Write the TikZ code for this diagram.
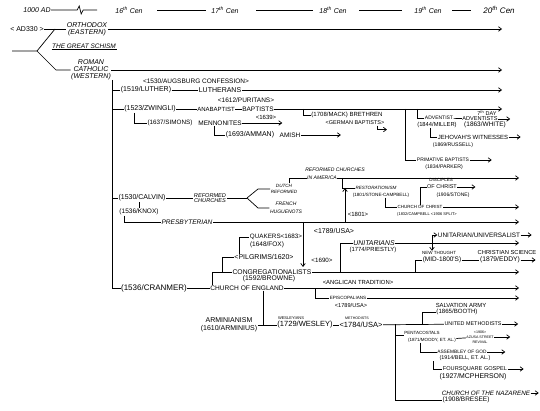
\documentclass[tikz,border=0pt]{standalone}
\usepackage{fontspec}
\newfontfamily\hand{Liberation Sans}
\usetikzlibrary{arrows.meta}

\begin{document}
\begin{tikzpicture}[
    x=1pt, y=-1pt,
    lbl/.style={inner sep=0.4pt, align=center},
    fs/.style={lbl, font=\hand\fontsize{#1}{#1}\selectfont},
    fsi/.style={lbl, font=\hand\itshape\fontsize{#1}{#1}\selectfont},
    ln/.style={line width=0.7pt},
    arr/.style={ln, -{Straight Barb[length=3pt,width=4.5pt]}},
  ]
  \fill[white] (0,0) rectangle (540,411);
  \useasboundingbox (0,0) rectangle (540,411);
  \coordinate (R)  at (502,0);
  \coordinate (R2) at (519,0);

  % time scale
  \node[fsi=7] (h0)  at (37,10)  {1000 AD};
  \node[fsi=7] (h16) at (129,10) {16\textsuperscript{th} Cen};
  \node[fsi=7] (h17) at (225,10) {17\textsuperscript{th} Cen};
  \node[fsi=7] (h18) at (333,10) {18\textsuperscript{th} Cen};
  \node[fsi=7] (h19) at (428,10) {19\textsuperscript{th} Cen};
  \node[fsi=8] (h20) at (499,10) {20\textsuperscript{th} Cen};
  \draw[ln] (h0.east) -- ++(26,0) -- ++(2,-4) -- ++(2,8) -- ++(2,-4) -- ++(14,0);
  \draw[ln] ([xshift=14pt]h16.east) -- ([xshift=-5pt]h17.west);
  \draw[ln] ([xshift=17pt]h17.east) -- ([xshift=-6pt]h18.west);
  \draw[ln] ([xshift=12pt]h18.east) -- ([xshift=-12pt]h19.west);
  \draw[ln] ([xshift=10pt]h19.east) -- ([xshift=-12pt]h20.west);

  % east / west
  \node[fs=7]     (ad)     at (27,29) {< AD330 >};
  \node[fsi=7]    (orth)   at (87,29) {ORTHODOX\\(EASTERN)};
  \node[fsi=6.5]  (schism) at (84,46) {THE GREAT SCHISM};
  \node[fsi=7]    (rom)    at (91,70) {ROMAN\\CATHOLIC\\(WESTERN)};
  \coordinate (rootx) at (12,51);
  \coordinate (split) at (37,51);
  \coordinate (up) at (55,29);
  \coordinate (dn) at (56,70);
  \draw[ln] (ad) -- (orth);
  \draw[ln] (rootx) -- (split) -- (up);
  \draw[ln] (split) -- (dn) -- (rom.west);
  \draw[ln] (schism.south west) -- (schism.south east);
  \draw[arr] (orth.east) -- (orth.east -| R);
  \draw[arr] (rom.east) -- (rom.east -| R);

  % lutherans, anabaptists
  \coordinate (pv) at (112,80);
  \node[fs=6.5] (augs)   at (196,81)  {<1530/AUGSBURG CONFESSION>};
  \node[fs=7]   (luther) at (146,90)  {(1519/LUTHER)};
  \node[fs=7]   (luth)   at (220,90)  {LUTHERANS};
  \node[fs=6.5] (purit)  at (246,100) {<1612/PURITANS>};
  \node[fs=7]   (zwing)  at (150,109) {(1523/ZWINGLI)};
  \node[fs=6]   (anab)   at (216,109) {ANABAPTIST};
  \node[fs=6.5] (bapt)   at (258,109) {BAPTISTS};
  \node[fs=6]   (y1639)  at (266,117) {<1639>};
  \node[fs=6.3] (simons) at (170,123) {(1637/SIMONS)};
  \node[fs=6.5] (menno)  at (220,123) {MENNONITES};
  \node[fs=7]   (amman)  at (250,135) {(1693/AMMAN)};
  \node[fs=6.5] (amish)  at (290,135) {AMISH};
  \node[fs=6]   (breth)  at (347,115) {(1708/MACK) BRETHREN};
  \node[fs=5.5] (gbapt)  at (355,123) {<GERMAN BAPTISTS>};
  \node[fs=5]   (advent) at (439,118) {ADVENTIST};
  \node[fs=5.8] (miller) at (437,125) {(1844/MILLER)};
  \node[fs=5.5] (sda7)   at (487,113) {7\textsuperscript{th} DAY};
  \node[fs=5.6] (sda)    at (480,119) {ADVENTISTS};
  \node[fs=6.5] (white)  at (485,125) {(1863/WHITE)};
  \node[fs=6]   (jw)     at (473,137) {JEHOVAH'S WITNESSES};
  \node[fs=5.2] (russ)   at (453,145) {(1869/RUSSELL)};
  \node[fs=5]   (prim)   at (443,160) {PRIMATIVE BAPTISTS};
  \node[fs=5.2] (parker) at (444,167) {(1834/PARKER)};
  \coordinate (bj1) at (303,109);
  \coordinate (bj2) at (405,109);
  \coordinate (bj3) at (417,109);

  \draw[ln] (pv |- luther) -- (luther);
  \draw[ln] (luther) -- (luth);
  \draw[arr] (luth.east) -- (luth.east -| R);
  \draw[ln] (pv |- zwing) -- (zwing);
  \draw[ln] (zwing) -- (anab);
  \draw[ln] (anab) -- (bapt);
  \draw[arr] (bapt.east) -- (bapt.east -| R);
  \draw[ln] ([xshift=11pt]zwing.south west) |- (simons.west);
  \draw[arr] (menno.east) -- ++(40,0);
  \draw[ln] ([xshift=17pt]menno.south west) |- (amman.west);
  \draw[arr] (amish.east) -- ++(40,0);
  \draw[ln] (bj1) |- (breth.west);
  \draw[arr] ([xshift=-8pt]gbapt.south east) |- ++(10,4);
  \draw[ln] (bj2) |- (prim.west);
  \draw[ln] (bj3) |- (advent.west);
  \draw[ln] (advent) -- (sda);
  \draw[arr] (sda.east) -- ++(12,0);
  \draw[ln] ([xshift=-7pt]miller.south) |- (jw.west);
  \draw[arr] (jw.east) -- ++(12,0);
  \draw[arr] (prim.east) -- ++(22,0);

  % reformed
  \node[fs=7]    (calvin) at (142,198) {(1530/CALVIN)};
  \node[fsi=5.6] (refch)  at (210,198) {REFORMED\\CHURCHES};
  \node[fsi=4.6] (dutch)  at (284,189) {DUTCH\\[2pt]REFORMED};
  \node[fsi=5]   (french) at (286,208) {FRENCH\\[2.5pt]HUGUENOTS};
  \node[fsi=5.1] (rca1)   at (335,170) {REFORMED CHURCHES};
  \node[fsi=5.1] (rca2)   at (322,178) {IN AMERICA};
  \node[fsi=4.6] (restor) at (376,188) {RESTORATIONISM};
  \node[fs=4.6]  (scamp)  at (381,195) {(1801/STONE-CAMPBELL)};
  \node[fs=4.5]  (disc1)  at (441,180) {DISCIPLES};
  \node[fs=5.5]  (disc2)  at (442,187) {OF CHRIST};
  \node[fs=5]    (stone)  at (453,195) {(1906/STONE)};
  \node[fs=4.5]  (coc)    at (420,207) {CHURCH OF CHRIST};
  \node[fs=4]    (campb)  at (427,214) {(1832/CAMPBELL <1906 SPLIT>};
  \node[fs=6.5]  (knox)   at (139,212) {(1536/KNOX)};
  \node[fsi=6.6] (presb)  at (187,222) {PRESBYTERIAN};
  \node[fs=6]    (y1801)  at (358,214) {<1801>};
  \node[fs=7]    (usa89a) at (334,231) {<1789/USA>};
  \coordinate (fork) at (247,198);
  \coordinate (j1801) at (345,188);

  \draw[ln] (pv |- calvin) -- (calvin);
  \draw[ln] (calvin) -- (refch);
  \draw[ln] (refch) -- (fork);
  \draw[ln] (fork) -- ++(11,-9) -- (dutch.west);
  \draw[ln] (fork) -- ++(11,10) -- (french.west);
  \draw[ln] ([xshift=5pt]dutch.north) |- (rca2.west);
  \draw[arr] (rca2.east) -- (rca2.east -| R2);
  \draw[ln] ([xshift=5pt]rca2.east) |- (restor.west);
  \draw[ln] ([xshift=4pt]scamp.south) |- (coc.west);
  \draw[ln] (coc.north) |- (disc2.west);
  \draw[arr] (disc2.east) -- ++(18,0);
  \draw[arr] (coc.east) -- (coc.east -| R2);
  \draw[ln] (knox.north) -- (knox.north |- calvin.south);
  \draw[ln] ([xshift=5pt]knox.south west) |- (presb.west);
  \draw[arr] (presb.east) -- (presb.east -| R2);
  \draw[arr] (j1801 |- presb.east) -- (j1801);

  % church of england
  \node[fs=6.3]  (quak)    at (276,237) {QUAKERS<1683>};
  \node[fs=6.5]  (fox)     at (267,245) {(1648/FOX)};
  \node[fs=7]    (pilg)    at (264,257) {<PILGRIMS/1620>};
  \node[fs=6.2]  (y1690)   at (322,260) {<1690>};
  \node[fs=6.8]  (congr)   at (272,272) {CONGREGATIONALISTS};
  \node[fs=6.8]  (browne)  at (269,279) {(1592/BROWNE)};
  \node[fs=8]    (cranmer) at (154,288) {(1536/CRANMER)};
  \node[fs=6.6]  (coe)     at (247,288) {CHURCH OF ENGLAND};
  \node[fs=5.9]  (angl)    at (358,282) {<ANGLICAN TRADITION>};
  \node[fs=4.6]  (episc)   at (348,298) {EPISCOPALIANS};
  \node[fs=5.6]  (usa89b)  at (351,305) {<1789/USA>};
  \node[fsi=6.9] (unit)    at (374,243) {UNITARIANS};
  \node[fs=5.9]  (priest)  at (373,250) {(1774/PRIESTLY)};
  \node[fs=6.4]  (uu)      at (479,235) {UNITARIAN/UNIVERSALIST};
  \node[fs=4.5]  (newth)   at (439,253) {NEW THOUGHT};
  \node[fs=6.5]  (mid)     at (442,260) {(MID-1800'S)};
  \node[fs=5.8]  (chsci)   at (507,253) {CHRISTIAN SCIENCE};
  \node[fs=6.7]  (eddy)    at (500,260) {(1879/EDDY)};
  \coordinate (c1690) at (303,267);
  \coordinate (ej) at (315,288);
  \coordinate (uj) at (340,272);
  \coordinate (uc) at (432,235);
  \coordinate (nj) at (415,272);

  \draw[ln] (pv) |- (cranmer.west);
  \draw[ln] (cranmer) -- (coe);
  \draw[arr] (coe.east) -- (coe.east -| R2);
  \draw[ln] ([xshift=3pt]coe.north west) |- (congr.west);
  \draw[ln] ([xshift=-10pt]congr.west) |- (pilg.west);
  \draw[ln] ([xshift=6pt]pilg.north west) |- (quak.west);
  \draw[arr] (congr.east) -- (congr.east -| R2);
  \draw[arr] (c1690 |- presb.east) -- (c1690);
  \draw[ln] (ej) |- (episc.west);
  \draw[arr] (episc.east) -- (episc.east -| R2);
  \draw[ln] (uj) |- (unit.west);
  \draw[arr] (unit.east) -- (unit.east -| R2);
  \draw[arr] (uc) -- (uu.west);
  \draw[arr] (uc) -- (uc |- newth.north);
  \draw[arr] (uu.east) -- ++(11,0);
  \draw[ln] (nj) |- (mid.west);
  \draw[ln] (mid.east) -- (eddy.west);
  \draw[arr] (eddy.east) -- ++(15,0);

  % methodists
  \node[fs=7]    (armin)  at (229,325) {ARMINIANISM\\[1pt](1610/ARMINIUS)};
  \node[fs=4]    (wesl)   at (291,318) {WESLEYIANS};
  \node[fs=7.5]  (wesd)   at (305,325) {(1729/WESLEY)};
  \node[fs=3.6]  (meth)   at (357,318) {METHODISTS};
  \node[fs=7.5]  (usa84)  at (361,325) {<1784/USA>};
  \node[fs=5.9]  (salv)   at (461,305) {SALVATION ARMY};
  \node[fs=6.1]  (booth)  at (457,312) {(1865/BOOTH)};
  \node[fs=5.4]  (umeth)  at (473,324) {UNITED METHODISTS};
  \node[fs=4.5]  (pent)   at (422,333) {PENTACOSTALS};
  \node[fs=4.5]  (moody)  at (432,340) {(1871/MOODY, ET. AL.)};
  \node[fs=3.6]  (azusa)  at (480,337) {<1906>\\[1.5pt]AZUSA STREET\\[1.5pt]REVIVAL};
  \node[fs=4.8]  (aog)    at (462,352) {ASSEMBLEY OF GOD};
  \node[fs=5.4]  (bell)   at (465,358) {(1914/BELL, ET. AL.)};
  \node[fs=5.6]  (four)   at (475,369) {FOURSQUARE GOSPEL};
  \node[fs=6.9]  (mcph)   at (473,377) {(1927/MCPHERSON)};
  \node[fsi=6.3] (naz)    at (486,393) {CHURCH OF THE NAZARENE};
  \node[fs=6.5]  (bresee) at (466,400) {(1908/BRESEE)};
  \coordinate (wj) at (263,325);
  \coordinate (sj) at (422,324);
  \coordinate (pj) at (395,324);

  \draw[ln] (wj |- coe.south) -- (wj) -- (wesd.west);
  \draw[ln] (armin.east) -- (wj);
  \draw[ln] (wesd) -- (usa84);
  \draw[ln] (usa84) -- (umeth);
  \draw[arr] (umeth.east) -- ++(16,0);
  \draw[ln] (sj) |- (booth.west);
  \draw[ln] (pj) |- (bresee.west);
  \draw[ln] (pj |- pent.south west) -- (pent.south west);
  \draw[ln] (moody) -- (azusa);
  \draw[arr] (azusa.east) -- ++(16,0);
  \draw[ln] ([xshift=-12pt]moody.south) |- (aog.west);
  \draw[arr] (aog.east) -- ++(18,0);
  \draw[ln] ([xshift=-6pt]bell.south west) |- (four.west);
  \draw[arr] (four.east) -- ++(16,0);
  \draw[arr] (naz.east) -- ++(8,0);
\end{tikzpicture}
\end{document}
